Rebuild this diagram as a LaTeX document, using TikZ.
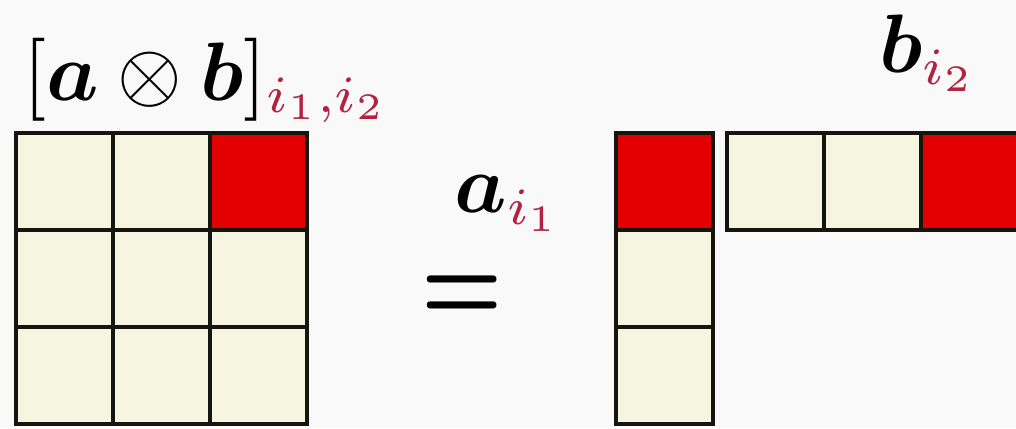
\documentclass[tikz,border=0pt]{standalone}
\usepackage{amsmath,bm}
\definecolor{bg}{RGB}{249,249,249}
\definecolor{cream}{RGB}{245,245,224}
\definecolor{cellred}{RGB}{226,0,0}
\definecolor{idx}{RGB}{178,34,64}
\definecolor{edge}{RGB}{22,22,16}
\newcommand{\subx}[1]{\scalebox{0.9}{$\scriptstyle\color{idx}#1$}}
\begin{document}
\begin{tikzpicture}[x=0.5pt,y=-0.5pt,
  cell/.style={draw=edge,line width=2pt,fill=cream},
  hot/.style={draw=edge,line width=2pt,fill=cellred},
  lbl/.style={inner sep=0pt,anchor=base west,scale=4.15,transform shape}]
\fill[bg] (0,0) rectangle (1016,428);
\useasboundingbox (0,0) rectangle (1016,428);
% left 3x3 grid
\foreach \r in {0,1,2}{
  \foreach \c in {0,1,2}{
    \draw[cell] (16+97*\c,133+97*\r) rectangle ++(97,97);
  }
}
\draw[hot] (210,133) rectangle ++(97,97);
% column vector a
\draw[hot] (616,133) rectangle ++(97,97);
\draw[cell] (616,230) rectangle ++(97,97);
\draw[cell] (616,327) rectangle ++(97,97);
% row vector b
\draw[cell] (727,133) rectangle ++(97,97);
\draw[cell] (824,133) rectangle ++(97,97);
\draw[hot] (921,133) rectangle ++(110,97);
% labels
\node[lbl] (kron) at (22,100) {$[\bm{a}\otimes\bm{b}]_{\subx{i_1,i_2}}$};
\node[lbl] (ai) at (453,212) {$\bm{a}_{\subx{i_1}}$};
\node[lbl] (bi) at (878,72) {$\bm{b}_{\subx{i_2}}$};
\node[inner sep=0pt,xscale=4.55,yscale=5.8,transform shape] (eq) at (462,299) {$\bm{=}$};
\end{tikzpicture}
\end{document}
